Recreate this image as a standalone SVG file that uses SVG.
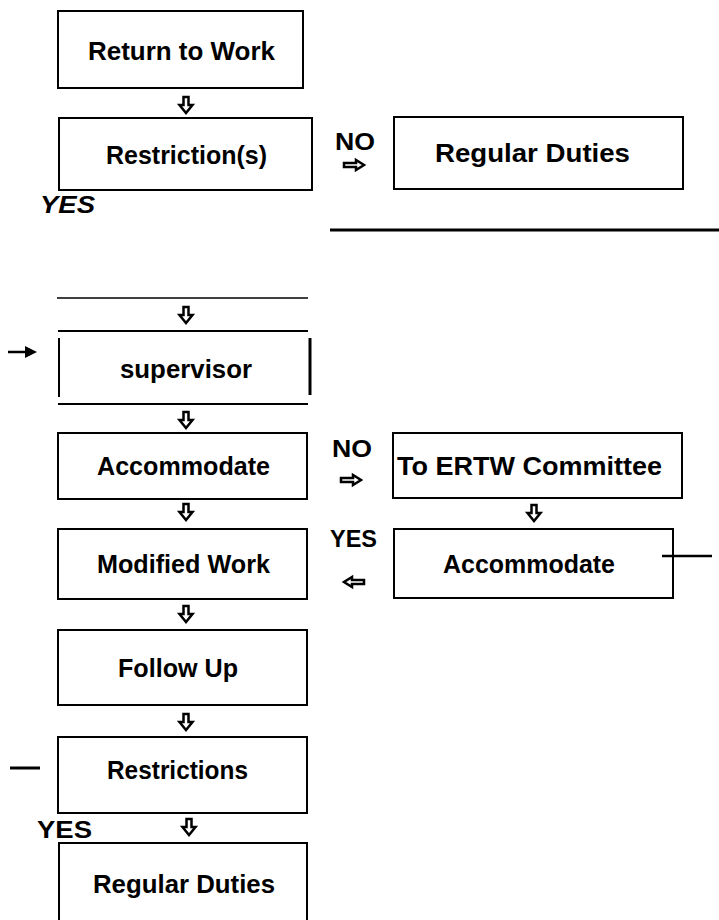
<svg xmlns="http://www.w3.org/2000/svg" xmlns:xlink="http://www.w3.org/1999/xlink" width="719" height="920" viewBox="0 0 719 920">
<style>
.box{fill:#fff;stroke:#000;stroke-width:2}
.t{font-family:"Liberation Sans",Arial,sans-serif;font-size:25px;font-weight:bold;fill:#000;text-anchor:middle}
.lbl{font-family:"Liberation Sans",Arial,sans-serif;font-size:24px;font-weight:bold;fill:#000}
.ln{stroke:#000;fill:none}
.ar{fill:#fff;stroke:#000;stroke-width:2.5;stroke-linejoin:miter}
</style>
<defs>
<path id="dn" class="ar" d="M-2.5,-8 H2.5 V0 H6.5 L0,8 L-6.5,0 H-2.5 Z"/>
<path id="rt" class="ar" d="M-10,-2 H2 V-5 L10,0 L2,5 V2 H-10 Z"/>
<path id="lf" class="ar" d="M10,-2 H-2 V-5 L-10,0 L-2,5 V2 H10 Z"/>
</defs>
<rect width="719" height="920" fill="#fff"/>

<g id="n-return">
<rect class="box" x="58" y="11" width="245" height="77"/>
<text class="t" x="181.5" y="60" textLength="187" lengthAdjust="spacingAndGlyphs">Return to Work</text>
</g>
<g id="n-restriction">
<rect class="box" x="59" y="118" width="253" height="72"/>
<text class="t" x="186.5" y="164" textLength="161" lengthAdjust="spacingAndGlyphs">Restriction(s)</text>
</g>
<g id="n-regular1">
<rect class="box" x="394" y="117" width="289" height="72"/>
<text class="t" x="532.5" y="162" textLength="195" lengthAdjust="spacingAndGlyphs">Regular Duties</text>
</g>
<g id="n-supervisor">
<line class="ln" x1="58" y1="331" x2="308" y2="331" stroke-width="2"/>
<line class="ln" x1="58" y1="404" x2="308" y2="404" stroke-width="2"/>
<line class="ln" x1="59" y1="338" x2="59" y2="397" stroke-width="2"/>
<line class="ln" x1="310" y1="338" x2="310" y2="395" stroke-width="3"/>
<text class="t" x="186" y="378" textLength="132" lengthAdjust="spacingAndGlyphs">supervisor</text>
</g>
<g id="n-accommodate1">
<rect class="box" x="58" y="433" width="249" height="66"/>
<text class="t" x="183.5" y="475" textLength="173" lengthAdjust="spacingAndGlyphs">Accommodate</text>
</g>
<g id="n-ertw">
<rect class="box" x="393" y="433" width="289" height="65"/>
<text class="t" x="529.5" y="475" textLength="265" lengthAdjust="spacingAndGlyphs">To ERTW Committee</text>
</g>
<g id="n-modified">
<rect class="box" x="58" y="529" width="249" height="70"/>
<text class="t" x="183.5" y="573" textLength="173" lengthAdjust="spacingAndGlyphs">Modified Work</text>
</g>
<g id="n-accommodate2">
<rect class="box" x="394" y="529" width="279" height="69"/>
<text class="t" x="529" y="573" textLength="172" lengthAdjust="spacingAndGlyphs">Accommodate</text>
</g>
<g id="n-followup">
<rect class="box" x="58" y="630" width="249" height="75"/>
<text class="t" x="178" y="677" textLength="120" lengthAdjust="spacingAndGlyphs">Follow Up</text>
</g>
<g id="n-restrictions">
<rect class="box" x="58" y="737" width="249" height="76"/>
<text class="t" x="177.5" y="779" textLength="141" lengthAdjust="spacingAndGlyphs">Restrictions</text>
</g>
<g id="n-regular2">
<path class="ln" stroke-width="2" d="M59,930 V843 H307 V930"/>
<text class="t" x="184" y="893" textLength="182" lengthAdjust="spacingAndGlyphs">Regular Duties</text>
</g>

<g id="connectors">
<use xlink:href="#dn" href="#dn" x="186" y="105"/>
<use xlink:href="#dn" href="#dn" x="186" y="315"/>
<use xlink:href="#dn" href="#dn" x="186" y="420"/>
<use xlink:href="#dn" href="#dn" x="186" y="512"/>
<use xlink:href="#dn" href="#dn" x="186" y="614"/>
<use xlink:href="#dn" href="#dn" x="186" y="722"/>
<use xlink:href="#dn" href="#dn" x="189" y="827"/>
<use xlink:href="#dn" href="#dn" x="534" y="513"/>
<use xlink:href="#rt" href="#rt" x="354" y="165"/>
<use xlink:href="#rt" href="#rt" x="351" y="480"/>
<use xlink:href="#lf" href="#lf" x="354" y="582"/>
<line class="ln" x1="57" y1="298" x2="308" y2="298" stroke-width="1.5"/>
<line class="ln" x1="330" y1="230" x2="719" y2="230" stroke-width="3"/>
<line class="ln" x1="662" y1="556" x2="712" y2="556" stroke-width="2.5"/>
<line class="ln" x1="10" y1="768" x2="40" y2="768" stroke-width="3"/>
<line class="ln" x1="8" y1="352" x2="28" y2="352" stroke-width="2.5"/>
<path d="M25,346 L37,352 L25,358 Z" fill="#000"/>
<text class="lbl" x="40" y="213" font-style="italic" textLength="55" lengthAdjust="spacingAndGlyphs">YES</text>
<text class="lbl" x="335" y="150" textLength="40" lengthAdjust="spacingAndGlyphs">NO</text>
<text class="lbl" x="332" y="457" textLength="40" lengthAdjust="spacingAndGlyphs">NO</text>
<text class="lbl" x="330" y="547" textLength="47" lengthAdjust="spacingAndGlyphs">YES</text>
<text class="lbl" x="37" y="838" textLength="55" lengthAdjust="spacingAndGlyphs">YES</text>
</g>
</svg>
